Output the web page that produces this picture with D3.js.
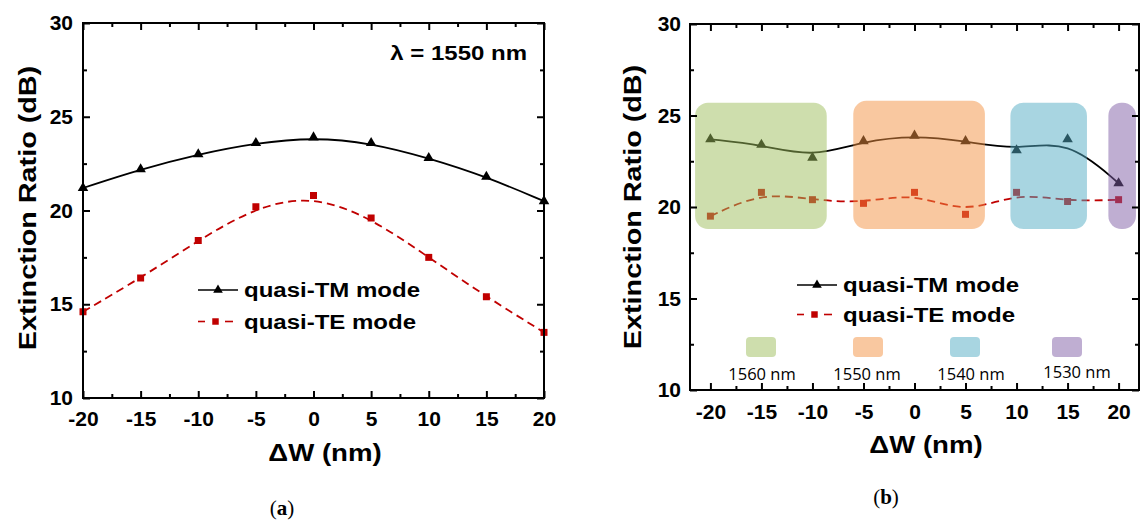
<!DOCTYPE html>
<html>
<head>
<meta charset="utf-8">
<script src="https://cdn.jsdelivr.net/npm/d3@7"></script>
<style>
  body { margin: 0; background: #fff; }
  svg text { font-family: "Liberation Sans", Arial, sans-serif; font-weight: bold; fill: #000; }
</style>
</head>
<body>
<svg id="chart" width="1140" height="520"></svg>
<script>
// width deviation (nm)
const widths = [-20, -15, -10, -5, 0, 5, 10, 15, 20];
// (a) extinction ratio at 1550 nm
const tmFixed = [21.2, 22.2, 23.0, 23.6, 23.9, 23.6, 22.8, 21.8, 20.5];
const teFixed = [14.6, 16.4, 18.4, 20.2, 20.8, 19.6, 17.5, 15.4, 13.5];
// (b) extinction ratio, wavelength tuned with width
const tmSweep = [23.7, 23.4, 22.7, 23.6, 23.9, 23.6, 23.1, 23.7, 21.3];
const teSweep = [19.5, 20.8, 20.4, 20.2, 20.8, 19.6, 20.8, 20.3, 20.4];

const yTicks = [10, 15, 20, 25, 30];
const yMinor = [12.5, 17.5, 22.5, 27.5];
const xTicks = [-20, -15, -10, -5, 0, 5, 10, 15, 20];
const xMinor = [-17.5, -12.5, -7.5, -2.5, 2.5, 7.5, 12.5, 17.5];

// wavelength bands shaded in (b)
const bandNames = ['1560 nm', '1550 nm', '1540 nm', '1530 nm'];
const bandFrom = [-21.5, -6.0, 9.4, 19.0];
const bandTo = [-8.6, 6.9, 16.9, 21.7];
const bandTop = [25.7, 25.8, 25.7, 25.7];
const bandBottom = [18.8, 18.8, 18.8, 18.8];
const bandColors = ['#9dbd5b', '#f39141', '#51abc3', '#7f5da5'];

const RED = '#c00000';
const svg = d3.select('#chart');

// the figure's lettering is wider than Arial at the same height
function stretch(sel, k) {
  sel.each(function() {
    const w = this.getComputedTextLength();
    d3.select(this).attr('textLength', w * k).attr('lengthAdjust', 'spacingAndGlyphs');
  });
}

function panel(opt) {
  const x = d3.scaleLinear().domain(opt.xDomain).range(opt.xRange);
  const y = d3.scaleLinear().domain([10, 30]).range(opt.yRange);
  const g = svg.append('g');

  const line = (vals) => d3.line()
    .x((d, i) => x(widths[i]))
    .y(d => y(d))
    .curve(d3.curveBasis)(vals);

  g.append('path').attr('d', line(opt.tm))
    .attr('fill', 'none').attr('stroke', '#000').attr('stroke-width', 1.8);
  g.append('path').attr('d', line(opt.te))
    .attr('fill', 'none').attr('stroke', RED).attr('stroke-width', 1.8)
    .attr('stroke-dasharray', '8,5');

  g.selectAll('.tri').data(opt.tm).join('path')
    .attr('class', 'tri')
    .attr('d', d3.symbol(d3.symbolTriangle, 48))
    .attr('transform', (d, i) => `translate(${x(widths[i])},${y(d)})`)
    .attr('fill', '#000');
  g.selectAll('.sq').data(opt.te).join('path')
    .attr('class', 'sq')
    .attr('d', d3.symbol(d3.symbolSquare, 49))
    .attr('transform', (d, i) => `translate(${x(widths[i])},${y(d)})`)
    .attr('fill', RED);

  if (opt.bands) {
    g.selectAll('.band').data(bandNames).join('rect')
      .attr('class', 'band')
      .attr('x', (d, i) => x(bandFrom[i]))
      .attr('width', (d, i) => x(bandTo[i]) - x(bandFrom[i]))
      .attr('y', (d, i) => y(bandTop[i]))
      .attr('height', (d, i) => y(bandBottom[i]) - y(bandTop[i]))
      .attr('rx', 13)
      .attr('fill', (d, i) => bandColors[i])
      .attr('opacity', 0.5);
  }

  const [x0, x1] = opt.xRange;
  const [y0, y1] = opt.yRange;
  const style = (a) => {
    a.select('.domain').remove();
    a.selectAll('line').attr('stroke', '#000').attr('stroke-width', 2);
    a.attr('font-size', 21).attr('font-family', '"Liberation Sans", Arial, sans-serif');
  };
  const fmt = d => String(d);

  g.append('g').attr('transform', `translate(0,${y0})`)
    .call(d3.axisBottom(x).tickValues(xTicks).tickSize(-7).tickPadding(opt.xPad).tickFormat(fmt)).call(style);
  g.append('g').attr('transform', `translate(0,${y0})`)
    .call(d3.axisBottom(x).tickValues(xMinor).tickSize(-4).tickFormat('')).call(style);
  g.append('g').attr('transform', `translate(0,${y1})`)
    .call(d3.axisTop(x).tickValues(xTicks).tickSize(-7).tickFormat('')).call(style);
  g.append('g').attr('transform', `translate(0,${y1})`)
    .call(d3.axisTop(x).tickValues(xMinor).tickSize(-4).tickFormat('')).call(style);
  g.append('g').attr('transform', `translate(${x0},0)`)
    .call(d3.axisLeft(y).tickValues(yTicks).tickSize(-7).tickPadding(opt.yPad).tickFormat(fmt)).call(style);
  g.append('g').attr('transform', `translate(${x0},0)`)
    .call(d3.axisLeft(y).tickValues(yMinor).tickSize(-4).tickFormat('')).call(style);
  g.append('g').attr('transform', `translate(${x1},0)`)
    .call(d3.axisRight(y).tickValues(yTicks).tickSize(-7).tickFormat('')).call(style);
  g.append('g').attr('transform', `translate(${x1},0)`)
    .call(d3.axisRight(y).tickValues(yMinor).tickSize(-4).tickFormat('')).call(style);

  g.append('rect')
    .attr('x', x0).attr('y', y1).attr('width', x1 - x0).attr('height', y0 - y1)
    .attr('fill', 'none').attr('stroke', '#000').attr('stroke-width', 2);

  // titles
  g.append('text')
    .attr('transform', `translate(${opt.yTitle[0]},${opt.yTitle[1]}) rotate(-90)`)
    .attr('text-anchor', 'middle').attr('dy', '0.35em').attr('font-size', 23)
    .text('Extinction Ratio (dB)').call(stretch, 1.25);
  g.append('text')
    .attr('x', opt.xTitle[0]).attr('y', opt.xTitle[1])
    .attr('text-anchor', 'middle').attr('dy', '0.36em').attr('font-size', 23)
    .text('\u0394W (nm)').call(stretch, 1.2);

  const cap = g.append('text')
    .attr('x', opt.cap[0]).attr('y', opt.cap[1])
    .attr('text-anchor', 'middle').attr('dy', '0.33em')
    .attr('font-size', 21)
    .style('font-family', '"Liberation Serif", "Times New Roman", serif')
    .style('font-weight', 'normal');
  cap.append('tspan').text('(');
  cap.append('tspan').style('font-weight', 'bold').text(opt.label);
  cap.append('tspan').text(')');

  // series legend
  const lx = opt.legend[0], ly = opt.legend[1], lg = opt.legend[2];
  const leg = g.append('g');
  leg.append('line').attr('x1', lx).attr('x2', lx + 40).attr('y1', ly).attr('y2', ly)
    .attr('stroke', '#000').attr('stroke-width', 1.6);
  leg.append('path').attr('d', d3.symbol(d3.symbolTriangle, 40))
    .attr('transform', `translate(${lx + 20},${ly})`).attr('fill', '#000');
  leg.append('line').attr('x1', lx).attr('x2', lx + 7).attr('y1', ly + lg).attr('y2', ly + lg)
    .attr('stroke', RED).attr('stroke-width', 1.6);
  leg.append('line').attr('x1', lx + 27).attr('x2', lx + 35).attr('y1', ly + lg).attr('y2', ly + lg)
    .attr('stroke', RED).attr('stroke-width', 1.6);
  leg.append('path').attr('d', d3.symbol(d3.symbolSquare, 42))
    .attr('transform', `translate(${lx + 17.5},${ly + lg})`).attr('fill', RED);
  leg.selectAll('.lt').data(['quasi-TM mode', 'quasi-TE mode']).join('text')
    .attr('class', 'lt')
    .attr('x', lx + 46).attr('y', (d, i) => ly + i * lg)
    .attr('dy', '0.36em').attr('font-size', 20)
    .text(d => d).call(stretch, 1.2);

  return { g, x, y };
}

const a = panel({
  xDomain: [-20, 20], xRange: [83, 544], yRange: [398, 23],
  tm: tmFixed, te: teFixed, xPad: 13, yPad: 10,
  yTitle: [28, 208], xTitle: [325, 453], cap: [282, 508], label: 'a',
  legend: [198, 290, 31.5]
});
a.g.append('text')
  .attr('x', 527).attr('y', 53).attr('text-anchor', 'end').attr('dy', '0.36em')
  .attr('font-size', 20).text('\u03bb = 1550 nm').call(stretch, 1.2);

const b = panel({
  xDomain: [-22, 22], xRange: [690, 1139], yRange: [390, 24],
  tm: tmSweep, te: teSweep, bands: true, xPad: 14, yPad: 9,
  yTitle: [633, 207], xTitle: [926, 445], cap: [886, 497], label: 'b',
  legend: [797, 285, 29.5]
});

// wavelength key under the series legend in (b)
const keyBox = [746, 853, 950, 1052];
const keyText = [762, 867, 971, 1077];
const key = b.g.append('g');
key.selectAll('rect').data(bandNames).join('rect')
  .attr('x', (d, i) => keyBox[i]).attr('y', 337)
  .attr('width', 30).attr('height', 20).attr('rx', 4)
  .attr('fill', (d, i) => bandColors[i]).attr('opacity', 0.5);
key.selectAll('text').data(bandNames).join('text')
  .attr('x', (d, i) => keyText[i]).attr('y', (d, i) => i === 3 ? 372 : 374)
  .attr('text-anchor', 'middle').attr('dy', '0.36em')
  .attr('font-size', 16.5)
  .style('font-family', '"Open Sans", "Noto Sans", sans-serif')
  .style('font-weight', 'normal')
  .text(d => d);
</script>
</body>
</html>
